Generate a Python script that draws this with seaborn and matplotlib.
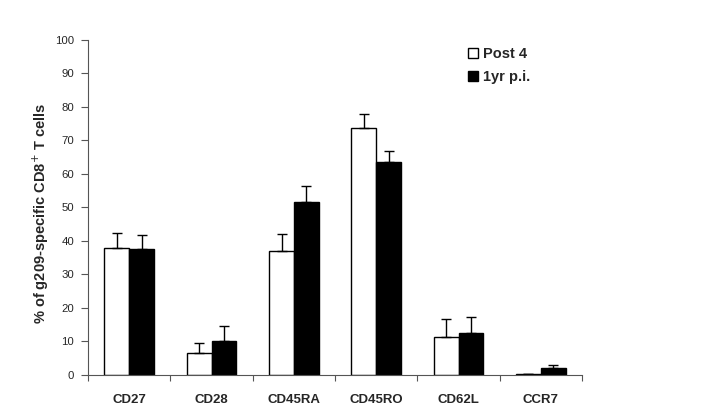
import matplotlib
matplotlib.use('Agg')
import matplotlib.pyplot as plt
import seaborn as sns
import pandas as pd
import numpy as np

# Dados
marcadores = ['CD27', 'CD28', 'CD45RA', 'CD45RO', 'CD62L', 'CCR7']
post4 = [38.0, 6.5, 37.0, 73.8, 11.4, 0.3]
post4_erro = [4.5, 3.2, 5.2, 4.0, 5.4, 0.0]
ano1 = [37.5, 10.0, 51.5, 63.6, 12.6, 2.2]
ano1_erro = [4.2, 4.5, 4.8, 3.2, 4.8, 0.8]
grupos = ['Post 4', '1yr p.i.']

df = pd.DataFrame({
    'marcador': marcadores * 2,
    'grupo': [grupos[0]] * 6 + [grupos[1]] * 6,
    'valor': post4 + ano1,
    'erro': post4_erro + ano1_erro,
})

sns.set_style('white')
plt.rcParams['font.family'] = ['Liberation Sans', 'DejaVu Sans']

fig = plt.figure(figsize=(7.18, 4.12), dpi=100)
ax = fig.add_axes([0.1226, 0.0898, 0.688, 0.8132])

sns.barplot(data=df, x='marcador', y='valor', hue='grupo', order=marcadores,
            hue_order=grupos, palette=['white', 'black'], edgecolor='black',
            linewidth=1, width=0.6, errorbar=None, ax=ax)

# Barras de erro (apenas para cima)
for container, g in zip(ax.containers, grupos):
    sub = df[df['grupo'] == g].set_index('marcador').loc[marcadores]
    xs = [p.get_x() + p.get_width() / 2 for p in container.patches]
    erros = sub['erro'].values
    ax.errorbar(xs, sub['valor'].values, yerr=[np.zeros(len(erros)), erros],
                fmt='none', ecolor='black', elinewidth=1, capsize=3.5, capthick=1)

ax.set_ylim(0, 100)
ax.set_xlim(-0.5, 5.5)
ax.set_yticks(range(0, 101, 10))
ax.set_xticks(np.arange(-0.5, 6, 1), minor=False)
ax.set_xticklabels([''] * 7)
ax.set_xticks(range(6), minor=True)
ax.set_xticklabels(marcadores, minor=True, fontweight='bold', fontsize=9.5)
ax.tick_params(axis='x', which='minor', length=0, pad=14)
ax.tick_params(axis='x', which='major', length=4, direction='out', color='#555555', width=0.8)
ax.tick_params(axis='y', length=5, direction='out', color='#555555', width=0.8, labelsize=8.2, pad=5)
ax.tick_params(left=True, bottom=True)

for lado in ['top', 'right']:
    ax.spines[lado].set_visible(False)
for lado in ['left', 'bottom']:
    ax.spines[lado].set_color('#555555')
    ax.spines[lado].set_linewidth(0.8)

ax.set_xlabel('')
ax.set_ylabel('% of g209-specific CD8$^{+}$ T cells', fontweight='bold', fontsize=10.5)
ax.yaxis.set_label_coords(-0.075, 0.482)

leg = ax.legend(loc='upper left', bbox_to_anchor=(0.769, 0.978), frameon=False,
                prop={'weight': 'bold', 'size': 10.5}, handlelength=0.7, handleheight=0.7,
                handletextpad=0.35, labelspacing=0.6, borderpad=0, borderaxespad=0)

fig.savefig('out.png', dpi=100)
